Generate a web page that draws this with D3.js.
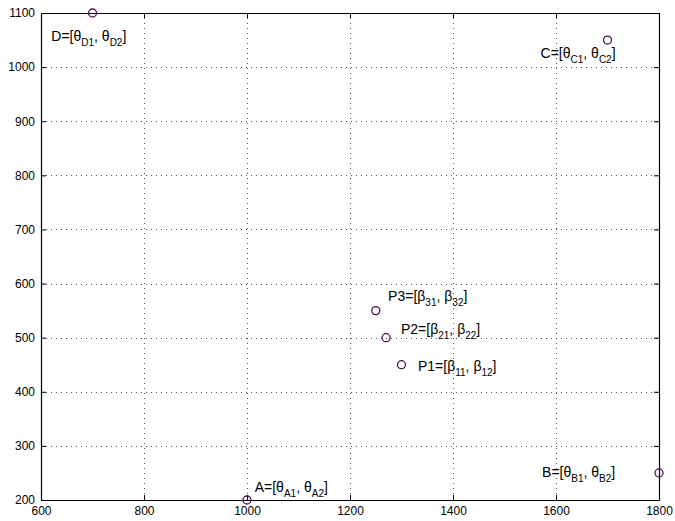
<!DOCTYPE html>
<html>
<head>
<meta charset="utf-8">
<script src="https://cdn.jsdelivr.net/npm/d3@7"></script>
<style>
  body { margin: 0; background: #fff; }
  text { font-family: "Liberation Sans", Arial, Helvetica, sans-serif; }
</style>
</head>
<body>
<div id="chart"></div>
<script>
// point data
const names = ["A", "B", "C", "D", "P1", "P2", "P3"]
const xs = [1000, 1800, 1700, 700, 1300, 1270, 1250]
const ys = [200, 250, 1050, 1100, 450, 500, 550]

// label text parts: prefix, greek letter, two subscripts
const prefixes = ["A=[", "B=[", "C=[", "D=[", "P1=[", "P2=[", "P3=["]
const greeks = ["θ", "θ", "θ", "θ", "β", "β", "β"]
const subs1 = ["A1", "B1", "C1", "D1", "11", "21", "31"]
const subs2 = ["A2", "B2", "C2", "D2", "12", "22", "32"]
// label anchors in data units
const labelX = [1015, 1573, 1570, 620, 1332, 1299, 1274]
const labelY = [215, 242, 1017, 1049, 438, 507, 568]

const xTicks = [600, 800, 1000, 1200, 1400, 1600, 1800]
const yTicks = [200, 300, 400, 500, 600, 700, 800, 900, 1000, 1100]

const width = 675, height = 521
const margin = { top: 13, right: 16, bottom: 21, left: 41 }

const svg = d3.select("#chart").append("svg")
  .attr("width", width)
  .attr("height", height)

const x = d3.scaleLinear().domain([600, 1800]).range([margin.left, width - margin.right])
const y = d3.scaleLinear().domain([200, 1100]).range([height - margin.bottom, margin.top])

// grid
const grid = svg.append("g")
  .attr("stroke", "#555")
  .attr("stroke-width", 1)
  .attr("stroke-dasharray", "1,4")
grid.selectAll("line.gx").data(xTicks.slice(1, -1)).join("line")
  .attr("x1", d => Math.round(x(d)) + 0.5).attr("x2", d => Math.round(x(d)) + 0.5)
  .attr("y1", y(1100)).attr("y2", y(200))
grid.selectAll("line.gy").data(yTicks.slice(1, -1)).join("line")
  .attr("y1", d => Math.round(y(d)) + 0.5).attr("y2", d => Math.round(y(d)) + 0.5)
  .attr("x1", x(600)).attr("x2", x(1800))

// axes (MATLAB box, ticks inward on all sides)
const tick = 5
const fmt = d3.format("d")
const axB = svg.append("g").attr("transform", `translate(0,${y(200)})`)
  .call(d3.axisBottom(x).tickValues(xTicks).tickFormat(fmt).tickSizeInner(-tick).tickSizeOuter(0).tickPadding(8))
const axT = svg.append("g").attr("transform", `translate(0,${y(1100)})`)
  .call(d3.axisTop(x).tickValues(xTicks).tickSizeInner(-tick).tickSizeOuter(0).tickFormat(""))
const axL = svg.append("g").attr("transform", `translate(${x(600)},0)`)
  .call(d3.axisLeft(y).tickValues(yTicks).tickFormat(fmt).tickSizeInner(-tick).tickSizeOuter(0).tickPadding(6))
const axR = svg.append("g").attr("transform", `translate(${x(1800)},0)`)
  .call(d3.axisRight(y).tickValues(yTicks).tickSizeInner(-tick).tickSizeOuter(0).tickFormat(""))

;[axB, axT, axL, axR].forEach(a => {
  a.select(".domain").attr("stroke", "#000").attr("stroke-width", 1.2)
  a.selectAll(".tick line").attr("stroke", "#000")
  a.selectAll("text").attr("fill", "#000").style("font-size", "12px")
    .style("font-family", "'Liberation Sans', Arial, sans-serif")
})
axB.selectAll("text").attr("dy", "0.55em")

// markers
svg.append("g").selectAll("circle").data(names).join("circle")
  .attr("cx", (d, i) => x(xs[i]))
  .attr("cy", (d, i) => y(ys[i]))
  .attr("r", 4)
  .attr("fill", "none")
  .attr("stroke", "#4a1150")
  .attr("stroke-width", 1.3)

// labels
const labels = svg.append("g").selectAll("text").data(names).join("text")
  .attr("x", (d, i) => x(labelX[i]))
  .attr("y", (d, i) => y(labelY[i]))
  .attr("fill", "#000")
  .style("font-size", "14px")

labels.each(function (d, i) {
  const t = d3.select(this)
  t.append("tspan").text(prefixes[i] + greeks[i])
  t.append("tspan").attr("dy", 5).style("font-size", "10px").text(subs1[i])
  t.append("tspan").attr("dy", -5).text(", " + greeks[i])
  t.append("tspan").attr("dy", 5).style("font-size", "10px").text(subs2[i])
  t.append("tspan").attr("dy", -5).text("]")
})
</script>
</body>
</html>
